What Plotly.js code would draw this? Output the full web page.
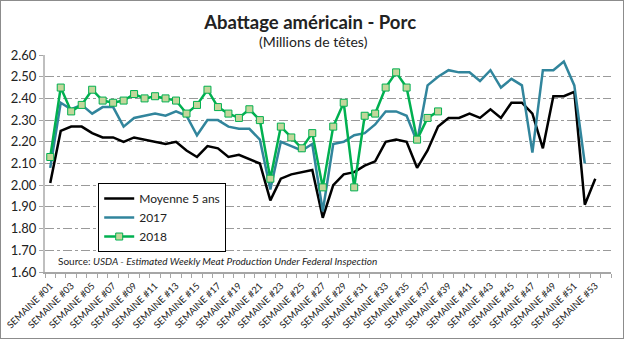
<!DOCTYPE html>
<html><head><meta charset="utf-8">
<script src="https://cdn.plot.ly/plotly-3.0.1.min.js"></script>
<style>html,body{margin:0;padding:0;background:#fff}#wrap{position:relative;width:624px;height:339px}#frame{position:absolute;left:0;top:0;width:622px;height:337px;border:1px solid #8c8c8c;pointer-events:none}</style>
</head><body><div id="wrap"><div id="chart" style="width:624px;height:339px"></div><div id="frame"></div></div>
<script>
const weeks = Array.from({length:53},(_,i)=>i+1);
const weekLabels = weeks.map(w=>'SEMAINE #'+String(w).padStart(2,'0'));
const moyenne5 = [2.01,2.25,2.27,2.27,2.24,2.22,2.22,2.20,2.22,2.21,2.20,2.19,2.20,2.16,2.13,2.18,2.17,2.13,2.14,2.12,2.10,1.93,2.03,2.05,2.06,2.07,1.85,2.00,2.05,2.06,2.09,2.11,2.20,2.21,2.20,2.08,2.16,2.27,2.31,2.31,2.33,2.31,2.35,2.31,2.38,2.38,2.33,2.17,2.41,2.41,2.43,1.91,2.03];
const s2017 = [2.08,2.38,2.35,2.37,2.33,2.36,2.36,2.27,2.31,2.32,2.33,2.32,2.34,2.32,2.23,2.30,2.30,2.27,2.26,2.26,2.21,1.98,2.20,2.18,2.16,2.19,1.88,2.19,2.20,2.23,2.24,2.28,2.34,2.34,2.32,2.20,2.46,2.50,2.53,2.52,2.52,2.48,2.53,2.45,2.49,2.46,2.15,2.53,2.53,2.57,2.46,2.10];
const s2018 = [2.13,2.45,2.34,2.37,2.44,2.39,2.38,2.39,2.42,2.40,2.41,2.40,2.39,2.33,2.37,2.44,2.36,2.33,2.31,2.35,2.30,2.03,2.27,2.22,2.17,2.24,1.99,2.27,2.38,1.99,2.32,2.33,2.45,2.52,2.45,2.21,2.31,2.34];
const yTicks = [1.6,1.7,1.8,1.9,2.0,2.1,2.2,2.3,2.4,2.5,2.6];
const oddWeeks = weeks.filter(w=>w%2===1);
const oddLabels = oddWeeks.map(w=>weekLabels[w-1]);

const font = 'Lato, "Open Sans", sans-serif';
const traces = [
 {x:weeks.slice(0,moyenne5.length), y:moyenne5, name:'Moyenne 5 ans', mode:'lines', line:{color:'#000000',width:2.5}},
 {x:weeks.slice(0,s2017.length), y:s2017, name:'2017', mode:'lines', line:{color:'#31859C',width:2.5}},
 {x:weeks.slice(0,s2018.length), y:s2018, name:'2018', mode:'lines+markers', line:{color:'#00B050',width:2.5},
  marker:{symbol:'square',size:7,color:'#C3D69B',line:{color:'#00B050',width:1}}}
];
const layout = {
 width:624, height:339,
 margin:{l:44.5,r:12.5,t:55,b:67},
 paper_bgcolor:'#fff', plot_bgcolor:'#fff',
 font:{family:font,color:'#222'},
 title:{text:'<b>Abattage américain - Porc</b>', font:{size:18.5,family:font,color:'#222'}, x:0.497, xanchor:'center', y:0.935, yanchor:'middle', yref:'container'},
 showlegend:true,
 legend:{x:0.094,y:0.41,xanchor:'left',yanchor:'top',bgcolor:'#fff',bordercolor:'#000',borderwidth:1,font:{size:12,family:font,color:'#222'},tracegroupgap:2,itemwidth:30},
 xaxis:{range:[0.5,54.5],tickmode:'array',tickvals:oddWeeks,ticktext:oddLabels,tickangle:-45,tickfont:{size:9.5,family:font,color:'#222'},
   ticks:'',ticklabelstandoff:3,showgrid:false,zeroline:false,showline:true,linecolor:'#a6a6a6',linewidth:1.5,
   minor:{ticks:'outside',tick0:0.5,dtick:1,ticklen:4,tickcolor:'#a6a6a6',showgrid:false}},
 yaxis:{range:[1.6,2.6],tickmode:'array',tickvals:yTicks,ticktext:yTicks.map(v=>v.toFixed(2)),tickfont:{size:13,family:font,color:'#222'},
   ticks:'outside',ticklen:4,tickcolor:'#a6a6a6',showline:true,linecolor:'#bfbfbf',linewidth:2,zeroline:false,
   showgrid:true,gridcolor:'#9a9a9a',griddash:'dashdot',gridwidth:1},
 annotations:[
  {text:'(Millions de têtes)',xref:'paper',yref:'paper',x:0.475,y:1.06,xanchor:'center',yanchor:'middle',showarrow:false,font:{size:14,family:font,color:'#222'}},
  {text:'Source: <i>USDA - Estimated Weekly Meat Production Under Federal Inspection</i>',xref:'paper',yref:'paper',x:0.02,y:0.05,xanchor:'left',yanchor:'middle',showarrow:false,font:{size:10,family:font,color:'#222'}}
 ]
};
Plotly.newPlot('chart',traces,layout,{displayModeBar:false,staticPlot:true});
</script></body></html>
